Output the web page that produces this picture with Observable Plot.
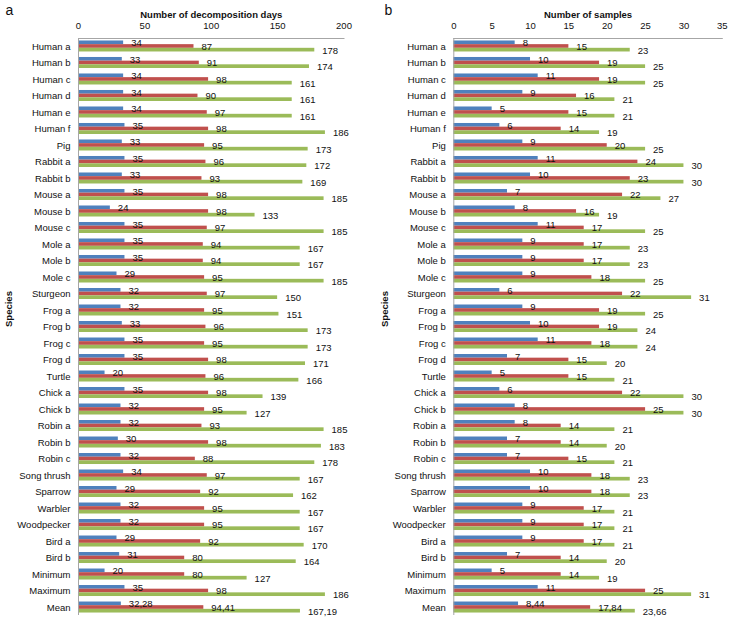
<!DOCTYPE html>
<html><head><meta charset="utf-8">
<script src="https://cdn.jsdelivr.net/npm/d3@7"></script>
<script src="https://cdn.jsdelivr.net/npm/@observablehq/plot@0.6"></script>
<style>
body{margin:0;background:#fff;}
#wrap{position:relative;width:729px;height:618px;background:#fff;}
#pa{position:absolute;left:0;top:0;}
#pb{position:absolute;left:360px;top:0;}
</style></head><body><div id="wrap"><div id="pa"></div><div id="pb"></div></div>
<script>
const species = ["Human a","Human b","Human c","Human d","Human e","Human f","Pig","Rabbit a","Rabbit b","Mouse a","Mouse b","Mouse c","Mole a","Mole b","Mole c","Sturgeon","Frog a","Frog b","Frog c","Frog d","Turtle","Chick a","Chick b","Robin a","Robin b","Robin c","Song thrush","Sparrow","Warbler","Woodpecker","Bird a","Bird b","Minimum","Maximum","Mean"];

const daysBlue  = [34,33,34,34,34,35,33,35,33,35,24,35,35,35,29,32,32,33,35,35,20,35,32,32,30,32,34,29,32,32,29,31,20,35,32.28];
const daysRed   = [87,91,98,90,97,98,95,96,93,98,98,97,94,94,95,97,95,96,95,98,96,98,95,93,98,88,97,92,95,95,92,80,80,98,94.41];
const daysGreen = [178,174,161,161,161,186,173,172,169,185,133,185,167,167,185,150,151,173,173,171,166,139,127,185,183,178,167,162,167,167,170,164,127,186,167.19];

const samplesBlue  = [8,10,11,9,5,6,9,11,10,7,8,11,9,9,9,6,9,10,11,7,5,6,8,8,7,7,10,10,9,9,9,7,5,11,8.44];
const samplesRed   = [15,19,19,16,15,14,20,24,23,22,16,17,17,17,18,22,19,19,18,15,15,22,25,14,14,15,18,18,17,17,17,14,14,25,17.84];
const samplesGreen = [23,25,25,21,21,19,25,30,30,27,19,25,23,23,25,31,25,24,24,20,21,30,30,21,20,21,23,23,21,21,21,20,19,31,23.66];

const daysTicks = [0,50,100,150,200];
const samplesTicks = [0,5,10,15,20,25,30,35];
const seriesColors = ["#4F81BD","#C0504D","#9BBB59"];

const fmt = v => Number.isInteger(v) ? String(v) : v.toFixed(2).replace(".", ",");

function panel({letter, title, ticks, series, width, marginLeft, marginRight, letterDx, speciesDx}) {
  const rows = series.map(vals => vals.map((v, i) => ({species: species[i], value: v})));
  const third = 11 / 3;
  const insets = [[0, 2*third], [third, third], [2*third, 0]];
  const labelDy = [-3.5, 0, 4];
  const marks = [
    Plot.axisX({anchor: "top", ticks, tickSize: 0, tickPadding: 10, label: null}),
    Plot.axisY({tickSize: 0, tickPadding: 8, label: null})
  ];
  rows.forEach((data, s) => {
    marks.push(Plot.barX(data, {y: "species", x: "value", fill: seriesColors[s], insetTop: insets[s][0], insetBottom: insets[s][1]}));
  });
  marks.push(Plot.ruleX([0], {stroke: "#a6a6a6"}));
  marks.push(Plot.frame({anchor: "top", stroke: "#a6a6a6"}));
  rows.forEach((data, s) => {
    marks.push(Plot.text(data, {y: "species", x: "value", text: d => fmt(d.value), textAnchor: "start", dx: 7.5, dy: labelDy[s], fill: "#111"}));
  });
  marks.push(Plot.text([title], {frameAnchor: "top", dy: -27, fontWeight: "bold", fill: "#111"}));
  marks.push(Plot.text(["Species"], {frameAnchor: "left", dx: speciesDx, rotate: -90, fontWeight: "bold", fill: "#111"}));
  marks.push(Plot.text([letter], {frameAnchor: "top-left", textAnchor: "start", dx: letterDx, dy: -33, fontSize: 14, fill: "#111"}));
  return Plot.plot({
    width, height: 618,
    marginTop: 38, marginBottom: 3, marginLeft, marginRight,
    x: {domain: [0, ticks[ticks.length - 1]]},
    y: {domain: species, paddingInner: 0.333, paddingOuter: 0.15, round: false},
    style: {fontFamily: "'Liberation Sans', Arial, sans-serif", fontSize: "9.5px", color: "#111", background: "transparent", overflow: "visible"},
    marks
  });
}

document.getElementById("pa").appendChild(panel({
  letter: "a", title: "Number of decomposition days", ticks: daysTicks,
  series: [daysBlue, daysRed, daysGreen], width: 360, marginLeft: 78, marginRight: 16.5,
  letterDx: -73, speciesDx: -70
}));
document.getElementById("pb").appendChild(panel({
  letter: "b", title: "Number of samples", ticks: samplesTicks,
  series: [samplesBlue, samplesRed, samplesGreen], width: 369, marginLeft: 93.3, marginRight: 7.2,
  letterDx: -69.3, speciesDx: -69.3
}));
</script></body></html>
